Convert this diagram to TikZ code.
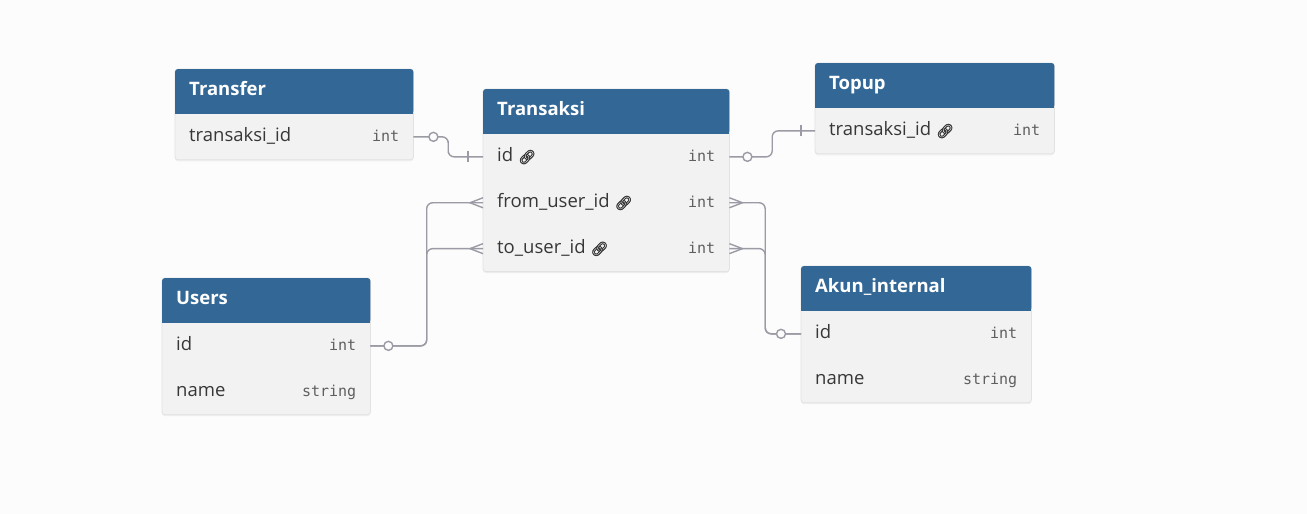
\documentclass[tikz,border=0pt]{standalone}
\usepackage{fontspec}
\setmainfont{Open Sans}
\setmonofont{DejaVu Sans Mono}
\newfontfamily\emojifont{Noto Emoji}[FakeBold=1.6]
\usetikzlibrary{calc,positioning,backgrounds,shadows}

\definecolor{hdrblue}{RGB}{51,104,150}
\definecolor{rowgrey}{RGB}{242,242,242}
\definecolor{pagebg}{RGB}{252,252,252}
\definecolor{frameline}{RGB}{226,226,226}
\definecolor{fieldtext}{RGB}{55,55,55}
\definecolor{typetext}{RGB}{95,95,95}
\definecolor{relline}{RGB}{155,155,165}

% link icon behind a key column
\newcommand{\lnk}{\hspace{5pt}{\emojifont\fontsize{14}{14}\selectfont 🔗}}

\begin{document}
\begin{tikzpicture}[x=1pt,y=-1pt,
  head/.style={rectangle,minimum height=44.5,inner sep=0,anchor=north west},
  row/.style={rectangle,minimum height=45.5,inner sep=0},
  title/.style={anchor=west,inner sep=0,text height=13,text depth=4.5,text=white,font=\fontsize{18.5}{22}\selectfont\bfseries},
  field/.style={anchor=west,inner sep=0,text height=13,text depth=3,text=fieldtext,font=\fontsize{18.5}{22}\selectfont},
  type/.style={anchor=east,inner sep=0,text height=13,text depth=3,text=typetext,font=\fontsize{15}{18}\selectfont\ttfamily},
  frame/.style={fill=rowgrey,draw=frameline,line width=0.8,rounded corners=3,
    drop shadow={opacity=.10,shadow xshift=0pt,shadow yshift=-1.5pt}},
  rel/.style={draw=relline,line width=1.4}]

\useasboundingbox (0,0) rectangle (1307,514);

% Transfer
\node[head,minimum width=238] (trf) at (175,69) {};
\node[title] (trf-t) at ([xshift=14]trf.west) {Transfer};
\node[row,minimum width=238,below=0pt of trf] (trf-1) {};
\node[field] (trf-1n) at ([xshift=14]trf-1.west) {transaksi\_id};
\node[type] (trf-1t) at ([xshift=-14]trf-1.east) {int};

% Transaksi
\node[head,minimum width=246] (trx) at (483,89) {};
\node[title] (trx-t) at ([xshift=14]trx.west) {Transaksi};
\node[row,minimum width=246,below=0pt of trx] (trx-1) {};
\node[row,minimum width=246,below=0pt of trx-1] (trx-2) {};
\node[row,minimum width=246,below=0pt of trx-2] (trx-3) {};
\node[field] (trx-1n) at ([xshift=14]trx-1.west) {id\lnk};
\node[field] (trx-2n) at ([xshift=14]trx-2.west) {from\_user\_id\lnk};
\node[field] (trx-3n) at ([xshift=14]trx-3.west) {to\_user\_id\lnk};
\node[type] (trx-1t) at ([xshift=-14]trx-1.east) {int};
\node[type] (trx-2t) at ([xshift=-14]trx-2.east) {int};
\node[type] (trx-3t) at ([xshift=-14]trx-3.east) {int};

% Topup
\node[head,minimum width=239] (top) at (815,63) {};
\node[title] (top-t) at ([xshift=14]top.west) {Topup};
\node[row,minimum width=239,below=0pt of top] (top-1) {};
\node[field] (top-1n) at ([xshift=14]top-1.west) {transaksi\_id\lnk};
\node[type] (top-1t) at ([xshift=-14]top-1.east) {int};

% Users
\node[head,minimum width=208] (usr) at (162,278) {};
\node[title] (usr-t) at ([xshift=14]usr.west) {Users};
\node[row,minimum width=208,below=0pt of usr] (usr-1) {};
\node[row,minimum width=208,below=0pt of usr-1] (usr-2) {};
\node[field] (usr-1n) at ([xshift=14]usr-1.west) {id};
\node[field] (usr-2n) at ([xshift=14]usr-2.west) {name};
\node[type] (usr-1t) at ([xshift=-14]usr-1.east) {int};
\node[type] (usr-2t) at ([xshift=-14]usr-2.east) {string};

% Akun_internal
\node[head,minimum width=230] (aki) at (801,266) {};
\node[title] (aki-t) at ([xshift=14]aki.west) {Akun\_internal};
\node[row,minimum width=230,below=0pt of aki] (aki-1) {};
\node[row,minimum width=230,below=0pt of aki-1] (aki-2) {};
\node[field] (aki-1n) at ([xshift=14]aki-1.west) {id};
\node[field] (aki-2n) at ([xshift=14]aki-2.west) {name};
\node[type] (aki-1t) at ([xshift=-14]aki-1.east) {int};
\node[type] (aki-2t) at ([xshift=-14]aki-2.east) {string};

\begin{scope}[on background layer]
  \fill[pagebg] (0,0) rectangle (1307,514);
  \foreach \t/\b in {trf/trf-1,trx/trx-3,top/top-1,usr/usr-2,aki/aki-2}{
    \path[frame] (\t.north west) rectangle (\b.south east);
    \fill[hdrblue,rounded corners=3] (\t.north west) rectangle (\t.south east);
    \fill[hdrblue] ([yshift=5]\t.south west) rectangle (\t.south east);
  }
\end{scope}

% relations
\draw[rel,rounded corners=6] (trf-1.east) -| ($(trf-1.east)!.5!(trx-1.west)$) |- (trx-1.west);
\draw[rel,rounded corners=6] (trx-1.east) -| ($(trx-1.east)!.5!(top-1.west)$) |- (top-1.west);
\draw[rel,rounded corners=6] (usr-1.east) -| ($(usr-1.east)!.5!(trx-2.west)$) |- (trx-2.west);
\draw[rel,rounded corners=6] (usr-1.east) -| ($(usr-1.east)!.5!(trx-3.west)$) |- (trx-3.west);
\draw[rel,rounded corners=6] (trx-2.east) -| ($(trx-2.east)!.5!(aki-1.west)$) |- (aki-1.west);
\draw[rel,rounded corners=6] (trx-3.east) -| ($(trx-3.east)!.5!(aki-1.west)$) |- (aki-1.west);

% ends: zero, one, many
\foreach \p/\d in {trf-1.east/20,trx-1.east/18,usr-1.east/18,aki-1.west/-20}
  \draw[rel,fill=pagebg] ([xshift=\d]\p) circle (4.5);
\foreach \p/\d in {trx-1.west/-15,top-1.west/-14}
  \draw[rel] ([xshift=\d,yshift=-5.5]\p) -- ([xshift=\d,yshift=5.5]\p);
\foreach \p/\d in {trx-2.west/-13,trx-3.west/-13,trx-2.east/13,trx-3.east/13}
  \draw[rel] ([yshift=5]\p) -- ([xshift=\d]\p) -- ([yshift=-5]\p);

\end{tikzpicture}
\end{document}
